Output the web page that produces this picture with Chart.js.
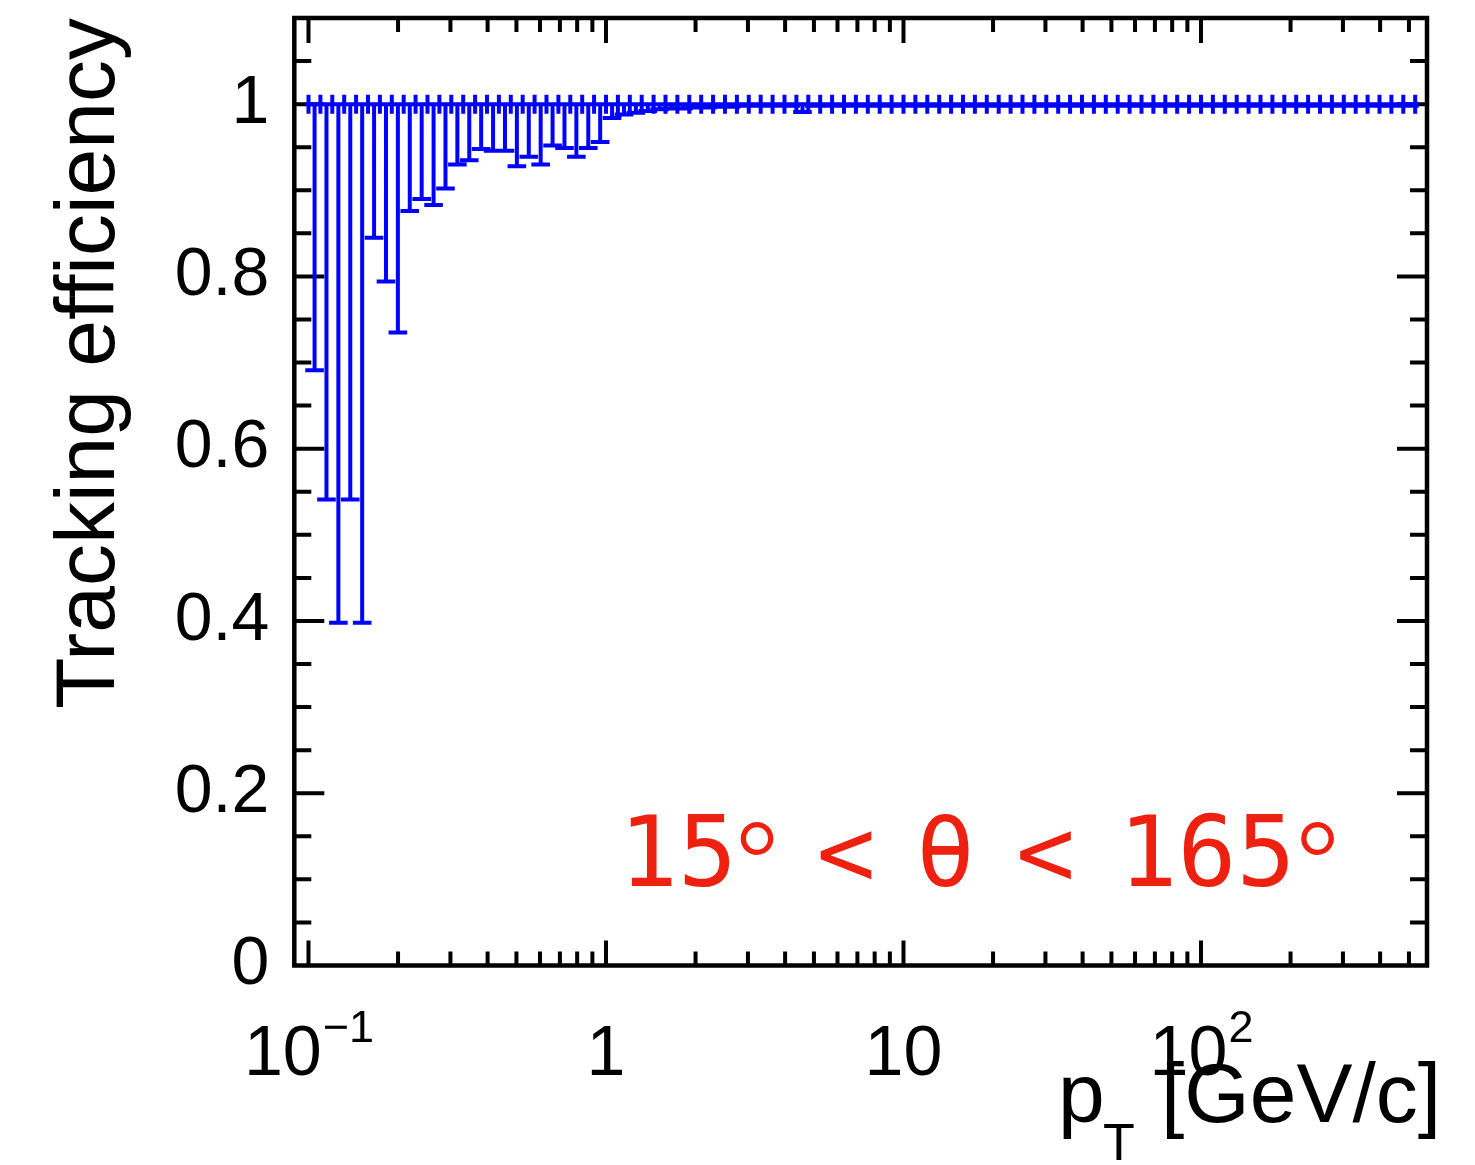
<!DOCTYPE html>
<html><head><meta charset="utf-8">
<script src="https://cdn.jsdelivr.net/npm/chart.js@4/dist/chart.umd.min.js"></script>
<style>html,body{margin:0;padding:0;background:#fff;overflow:hidden}canvas{display:block}</style>
</head><body>
<canvas id="c" width="1475" height="1165"></canvas>
<script>
// ---- binning (log-uniform, 25 bins per decade starting at 0.1 GeV/c) ----
const binLog10Start = -1;
const binLog10Width = 0.04;
const nBins = 93;

// ---- series: efficiency per bin and its asymmetric errors ----
const efficiency = [
 1,1,1,1,1,1,1,1,1,1, 1,1,1,1,1,1,1,1,1,1,
 1,1,1,1,1,1,1,1,1,1, 1,1,1,1,1,1,1,1,1,1,
 1,1,1,1,1,1,1,1,1,1, 1,1,1,1,1,1,1,1,1,1,
 1,1,1,1,1,1,1,1,1,1, 1,1,1,1,1,1,1,1,1,1,
 1,1,1,1,1,1,1,1,1,1, 1,1,1
];
const errLow = [
 0.309,0.459,0.602,0.459,0.602,0.155,0.206,0.265,0.124,0.110,
 0.117,0.098,0.070,0.065,0.052,0.054,0.054,0.072,0.061,0.070,
 0.048,0.051,0.061,0.051,0.044,0.016,0.012,0.010,0.008,0.006,
 0.005,0.005,0.004,0.004,0.003,0.003,0.002,0.002,0.002,0.002,
 0.002,0.009,0.002,0.002,0.002,0.002,0.002,0.002,0.002,0.002,
 0.002,0.002,0.002,0.002,0.002,0.002,0.002,0.002,0.002,0.002,
 0.002,0.002,0.002,0.002,0.002,0.002,0.002,0.002,0.002,0.002,
 0.002,0.002,0.002,0.002,0.002,0.002,0.002,0.002,0.002,0.002,
 0.002,0.002,0.002,0.002,0.002,0.002,0.002,0.002,0.002,0.002,
 0.002,0.002,0.002
];
const errHigh = [
 0,0,0,0,0,0,0,0,0,0, 0,0,0,0,0,0,0,0,0,0,
 0,0,0,0,0,0,0,0,0,0, 0,0,0,0,0,0,0,0,0,0,
 0,0,0,0,0,0,0,0,0,0, 0,0,0,0,0,0,0,0,0,0,
 0,0,0,0,0,0,0,0,0,0, 0,0,0,0,0,0,0,0,0,0,
 0,0,0,0,0,0,0,0,0,0, 0,0,0
];

// ---- axes ----
const xMin = 0.0896, xMax = 575;
const yMin = 0, yMax = 1.1;
const yTickValues = [0, 0.2, 0.4, 0.6, 0.8, 1];
const yTickLabels = ['0', '0.2', '0.4', '0.6', '0.8', '1'];
const xTickValues = [0.1, 1, 10, 100];
const xTickBase = ['10', '1', '10', '10'];
const xTickExp = ['\u22121', '', '', '2'];
const yTitle = 'Tracking efficiency';
const xTitleMain = 'p', xTitleSub = 'T', xTitleUnit = '[GeV/c]';

// bin edges / centres from the binning
const binEdges = [];
for (let k = 0; k <= nBins; k++) binEdges.push(Math.pow(10, binLog10Start + k * binLog10Width));
const binCenters = [];
for (let k = 0; k < nBins; k++) binCenters.push((binEdges[k] + binEdges[k + 1]) / 2);

const SANS = "'Liberation Sans', Arial, Helvetica, sans-serif";
const MONO = "'DejaVu Sans Mono', monospace";
const BLUE = '#0000ff';
const RED = 'rgb(238,33,17)';

const framePlugin = {
  id: 'frame',
  beforeDatasetsDraw(chart) {
    const {ctx, chartArea: a, scales: {x, y}} = chart;
    ctx.save();
    ctx.strokeStyle = '#000';
    ctx.lineWidth = 4;
    ctx.lineCap = 'butt';
    ctx.beginPath();
    for (let k = 1; k < 22; k++) {
      const v = k * 0.05;
      const py = y.getPixelForValue(v);
      const len = (k % 4 === 0) ? 30 : 17;
      ctx.moveTo(a.left, py); ctx.lineTo(a.left + len, py);
      ctx.moveTo(a.right, py); ctx.lineTo(a.right - len, py);
    }
    for (let d = -1; d <= 2; d++) {
      for (let m = 1; m <= 9; m++) {
        const v = m * Math.pow(10, d);
        if (v <= xMin || v >= xMax) continue;
        const px = x.getPixelForValue(v);
        const len = (m === 1) ? 25 : 14;
        ctx.moveTo(px, a.bottom); ctx.lineTo(px, a.bottom - len);
        ctx.moveTo(px, a.top); ctx.lineTo(px, a.top + len);
      }
    }
    ctx.stroke();
    ctx.lineWidth = 4.5;
    ctx.strokeRect(a.left, a.top, a.right - a.left, a.bottom - a.top);
    ctx.restore();
  },
  afterDatasetsDraw(chart) {
    const {ctx, scales: {x, y}} = chart;
    ctx.save();
    ctx.strokeStyle = BLUE;
    ctx.lineWidth = 4;
    ctx.lineCap = 'butt';
    ctx.beginPath();
    const endHalf = 9.5, capHalf = 9.3;
    for (let i = 0; i < nBins; i++) {
      const xl = x.getPixelForValue(binEdges[i]);
      const xh = x.getPixelForValue(binEdges[i + 1]);
      const xc = x.getPixelForValue(binCenters[i]);
      const py = y.getPixelForValue(efficiency[i]);
      const yl = y.getPixelForValue(efficiency[i] - errLow[i]);
      const yh = y.getPixelForValue(efficiency[i] + errHigh[i]);
      ctx.moveTo(xl, py); ctx.lineTo(xh, py);
      ctx.moveTo(xl, py - endHalf); ctx.lineTo(xl, py + endHalf);
      ctx.moveTo(xh, py - endHalf); ctx.lineTo(xh, py + endHalf);
      ctx.moveTo(xc, yh); ctx.lineTo(xc, yl);
      ctx.moveTo(xc - capHalf, yl); ctx.lineTo(xc + capHalf, yl);
      ctx.moveTo(xc - capHalf, yh); ctx.lineTo(xc + capHalf, yh);
    }
    ctx.stroke();
    ctx.restore();
  },
  afterDraw(chart) {
    const {ctx, scales: {x}} = chart;
    ctx.save();
    ctx.fillStyle = '#000';
    ctx.textBaseline = 'alphabetic';
    ctx.textAlign = 'left';
    const baseFont = '70px ' + SANS, expFont = '45px ' + SANS;
    for (let i = 0; i < xTickValues.length; i++) {
      const px = x.getPixelForValue(xTickValues[i]);
      ctx.font = baseFont;
      const wb = ctx.measureText(xTickBase[i]).width;
      ctx.font = expFont;
      const we = xTickExp[i] ? ctx.measureText(xTickExp[i]).width : 0;
      const start = px - (wb + we) / 2;
      ctx.font = baseFont;
      ctx.fillText(xTickBase[i], start, 1075);
      if (xTickExp[i]) {
        ctx.font = expFont;
        ctx.fillText(xTickExp[i], start + wb + 1, 1042);
      }
    }
    ctx.font = '84px ' + SANS;
    ctx.fillText(xTitleMain, 1058, 1122);
    ctx.font = '52px ' + SANS;
    ctx.fillText(xTitleSub, 1103, 1160);
    ctx.font = '84px ' + SANS;
    ctx.fillText(xTitleUnit, 1161, 1122);
    // annotation
    ctx.fillStyle = RED;
    ctx.textAlign = 'center';
    ctx.font = '98px ' + MONO;
    ctx.fillText('15', 678, 886);
    ctx.fillText('<', 846, 886);
    ctx.fillText('\u03b8', 945.5, 886);
    ctx.fillText('<', 1045.5, 886);
    ctx.fillText('165', 1207, 886);
    ctx.font = "108px 'Liberation Serif', serif";
    ctx.fillText('\u00b0', 757, 894);
    ctx.fillText('\u00b0', 1317.5, 894);
    ctx.restore();
  }
};

new Chart(document.getElementById('c'), {
  type: 'scatter',
  data: {
    datasets: [{
      label: 'efficiency',
      data: binCenters.map((c, i) => ({x: c, y: efficiency[i]})),
      pointRadius: 0,
      showLine: false,
      borderColor: BLUE,
      backgroundColor: BLUE
    }]
  },
  options: {
    responsive: false,
    animation: false,
    devicePixelRatio: 1,
    layout: {padding: {top: 18, right: 48, left: 0, bottom: 0}},
    plugins: {legend: {display: false}, tooltip: {enabled: false}},
    scales: {
      x: {
        type: 'logarithmic',
        min: xMin, max: xMax,
        grid: {display: false},
        border: {display: false},
        ticks: {display: false},
        afterFit: (s) => { s.height = 1165 - 965.5; s.paddingLeft = 0; s.paddingRight = 0; }
      },
      y: {
        type: 'linear',
        min: yMin, max: yMax,
        grid: {display: false, drawTicks: false},
        border: {display: false},
        afterFit: (s) => { s.width = 294.3; s.paddingTop = 0; s.paddingBottom = 0; },
        afterBuildTicks: (s) => { s.ticks = yTickValues.map(v => ({value: v})); },
        ticks: {
          autoSkip: false,
          padding: 25,
          color: '#000',
          font: {family: SANS, size: 68},
          callback: (v) => { const i = yTickValues.indexOf(v); return i >= 0 ? yTickLabels[i] : ''; }
        },
        title: {
          display: true,
          text: yTitle,
          align: 'end',
          color: '#000',
          font: {family: SANS, size: 84, lineHeight: 1.2},
          padding: {top: 40, bottom: 0}
        }
      }
    }
  },
  plugins: [framePlugin]
});
</script>
</body></html>
